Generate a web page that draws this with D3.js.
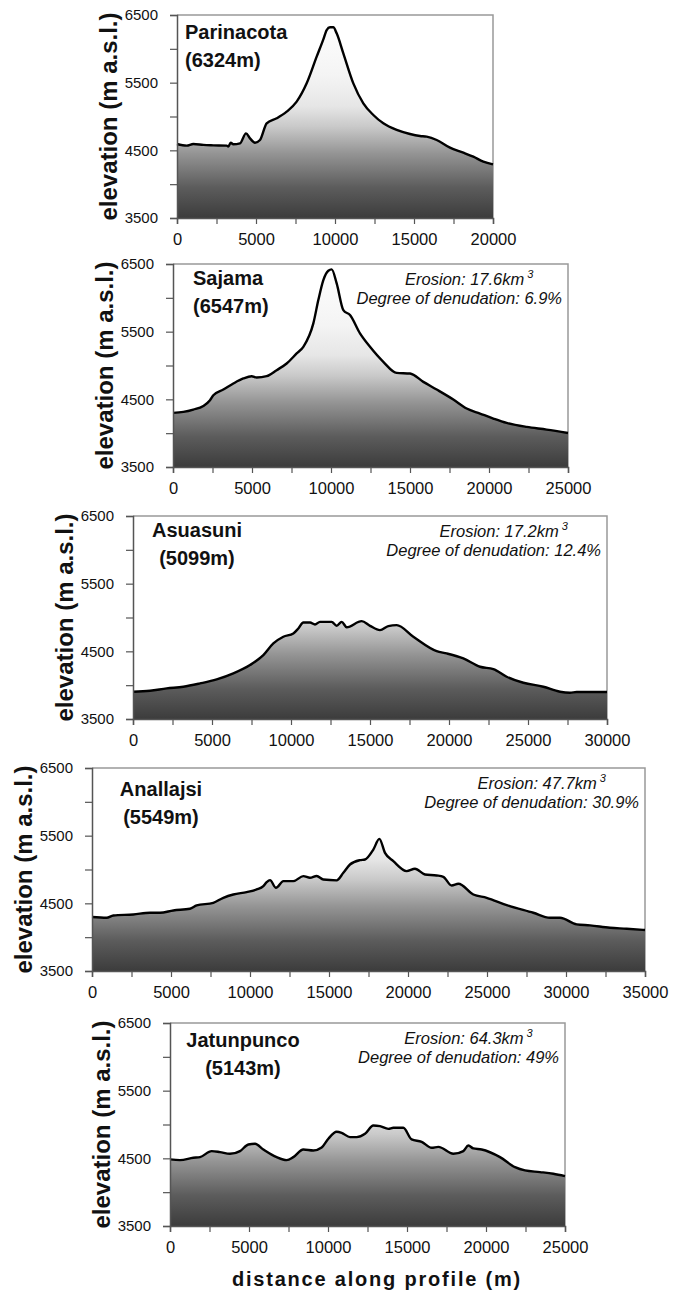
<!DOCTYPE html>
<html>
<head>
<meta charset="utf-8">
<script src="https://cdn.jsdelivr.net/npm/d3@7"></script>
<style>
  body { margin: 0; background: #fff; }
  text { font-family: "Liberation Sans", Arial, sans-serif; fill: #111; }
  .tick-y { font-size: 15px; }
  .tick-x { font-size: 16.5px; }
  .ylabel { font-size: 24px; font-weight: bold; }
  .xlabel { font-size: 20px; font-weight: bold; letter-spacing: 1.8px; }
  .name { font-size: 20px; font-weight: bold; }
  .note { font-size: 16.5px; font-style: italic; }
</style>
</head>
<body>
<div id="viz"></div>
<script>
var width = 681
var height = 1294

// profiles: [distance (m), elevation (m a.s.l.)]
var parinacota = [[0,4594],[612,4569],[1034,4594],[1667,4580],[2300,4574],[3143,4569],[3249,4555],[3397,4613],
  [3565,4589],[3987,4603],[4367,4751],[4620,4677],[4937,4613],[5253,4653],[5675,4899],[6308,4973],[6941,5071],
  [7574,5219],[8207,5490],[8840,5884],[9262,6140],[9473,6278],[9684,6318],[9895,6318],[10105,6229],[10527,5934],
  [11160,5490],[11793,5195],[12426,5022],[13059,4899],[13903,4801],[14747,4741],[15380,4712],[15802,4702],
  [16435,4653],[17278,4539],[18122,4466],[18755,4406],[19388,4333],[20000,4293]]
var sajama = [[0,4300],[654,4314],[1287,4349],[1920,4403],[2342,4487],[2553,4561],[3186,4645],[3819,4734],
  [4451,4808],[4979,4842],[5295,4822],[5928,4842],[6561,4931],[7194,5030],[7827,5178],[8249,5276],[8882,5622],
  [9198,5967],[9515,6263],[9831,6401],[10042,6421],[10359,6214],[10781,5819],[11203,5745],[11835,5474],
  [12468,5276],[13312,5054],[14156,4891],[15000,4882],[15844,4758],[16688,4645],[17743,4497],[18586,4364],
  [19430,4290],[20274,4216],[21118,4151],[22384,4092],[23650,4053],[25000,4003]]
var asuasuni = [[0,3903],[1076,3918],[2131,3952],[3186,3977],[4241,4026],[5295,4085],[6350,4174],[7405,4297],
  [8249,4444],[8882,4616],[9515,4715],[10148,4764],[10464,4838],[10781,4926],[11203,4926],[11519,4897],
  [11835,4936],[12574,4936],[12890,4877],[13207,4936],[13523,4857],[14473,4946],[15000,4877],[15633,4813],
  [16160,4872],[16688,4887],[17743,4715],[19219,4503],[19852,4469],[20907,4395],[21962,4272],[22806,4238],
  [23650,4125],[24705,4036],[25970,3977],[27025,3903],[27658,3889],[28080,3898],[30000,3898]]
var anallajsi = [[0,4297],[928,4287],[1350,4321],[2616,4336],[3671,4361],[4304,4361],[5148,4395],[6203,4420],
  [6624,4469],[7679,4508],[8312,4582],[8945,4631],[9789,4666],[10422,4705],[10844,4754],[11055,4813],
  [11266,4843],[11646,4730],[12110,4828],[12743,4828],[13376,4902],[13797,4877],[14219,4905],[14641,4852],
  [15485,4840],[15907,4951],[16329,5074],[16962,5138],[17278,5148],[17806,5295],[18186,5452],[18544,5246],
  [19072,5123],[19916,4976],[20443,5010],[21076,4926],[21814,4912],[22236,4892],[22764,4764],[23186,4789],
  [24135,4631],[24979,4582],[26245,4474],[27932,4361],[28987,4287],[29620,4287],[30675,4189],[31519,4174],
  [32785,4139],[33840,4125],[35000,4105]]
var jatunpunco = [[0,4484],[633,4474],[1477,4508],[1899,4518],[2637,4607],[3165,4592],[3797,4567],[4430,4607],
  [4958,4705],[5380,4715],[5907,4631],[6751,4518],[7384,4474],[7806,4518],[8439,4631],[9072,4616],[9599,4660],
  [10021,4790],[10549,4892],[10865,4877],[11392,4813],[11814,4813],[12342,4862],[12869,4985],[13291,4975],
  [13819,4936],[14135,4951],[14768,4951],[15295,4779],[15928,4744],[16561,4656],[16983,4670],[17932,4567],
  [18565,4607],[18882,4690],[19198,4646],[19726,4631],[20886,4518],[21835,4370],[22468,4321],[23418,4297],
  [24262,4272],[25000,4238]]

var profiles = [parinacota, sajama, asuasuni, anallajsi, jatunpunco]
var names = ["Parinacota", "Sajama", "Asuasuni", "Anallajsi", "Jatunpunco"]
var summits = ["(6324m)", "(6547m)", "(5099m)", "(5549m)", "(5143m)"]
var erosion = [null, "17.6", "17.2", "47.7", "64.3"]
var denudation = [null, "6.9%", "12.4%", "30.9%", "49%"]
var profileLength = [20000, 25000, 30000, 35000, 25000]
var yTicks = [3500, 4500, 5500, 6500]

// layout of each panel
var panels = [
  {left: 177, top: 15, nameX: 185, anchor: "start", nameDy: 24},
  {left: 173, top: 264, nameX: 193, anchor: "start", nameDy: 21},
  {left: 133, top: 516, nameX: 197, anchor: "middle", nameDy: 21},
  {left: 92, top: 768, nameX: 161, anchor: "middle", nameDy: 28},
  {left: 170, top: 1023, nameX: 243, anchor: "middle", nameDy: 24}
]
var plotH = 203
var pxPer5000 = 79

var svg = d3.select("#viz").append("svg")
    .attr("width", width)
    .attr("height", height);
var defs = svg.append("defs");

var stops = [[0, "#ffffff"], [0.3, "#f4f4f4"], [0.45, "#e6e6e6"], [0.55, "#c9c9c9"],
  [0.68, "#959595"], [0.85, "#5c5c5c"], [1, "#3c3c3c"]]

profiles.forEach(function (data, i) {
    var p = panels[i];
    var w = profileLength[i] / 5000 * pxPer5000;
    var x = d3.scaleLinear().domain([0, profileLength[i]]).range([p.left, p.left + w]);
    var y = d3.scaleLinear().domain([3500, 6500]).range([p.top + plotH, p.top]);

    var grad = defs.append("linearGradient")
        .attr("id", "grad" + i)
        .attr("gradientUnits", "userSpaceOnUse")
        .attr("x1", 0).attr("x2", 0)
        .attr("y1", p.top).attr("y2", p.top + plotH);
    stops.forEach(function (s) {
        grad.append("stop").attr("offset", s[0]).attr("stop-color", s[1]);
    });

    var g = svg.append("g");

    // frame (top and right)
    g.append("path")
        .attr("d", "M" + p.left + "," + p.top + "H" + (p.left + w) + "V" + (p.top + plotH))
        .attr("fill", "none")
        .attr("stroke", "#999")
        .attr("stroke-width", 1.5);

    var area = d3.area()
        .x(function (d) { return x(d[0]); })
        .y0(y(3500))
        .y1(function (d) { return y(d[1]); })
        .curve(d3.curveMonotoneX);
    var line = d3.line()
        .x(function (d) { return x(d[0]); })
        .y(function (d) { return y(d[1]); })
        .curve(d3.curveMonotoneX);

    g.append("path").datum(data)
        .attr("d", area)
        .attr("fill", "url(#grad" + i + ")");
    g.append("path").datum(data)
        .attr("d", line)
        .attr("fill", "none")
        .attr("stroke", "#000")
        .attr("stroke-width", 2.4)
        .attr("stroke-linejoin", "round");

    // axes
    var yAxis = d3.axisLeft(y)
        .tickValues(d3.range(3500, 6501, 500))
        .tickSize(7)
        .tickPadding(12)
        .tickFormat(function (d) { return yTicks.indexOf(d) >= 0 ? d : ""; });
    var ya = g.append("g")
        .attr("transform", "translate(" + p.left + ",0)")
        .call(yAxis);
    ya.selectAll("text").attr("class", "tick-y").attr("font-family", null).attr("font-size", null);

    var xAxis = d3.axisBottom(x)
        .tickValues(d3.range(0, profileLength[i] + 1, 2500))
        .tickSize(6)
        .tickPadding(9)
        .tickFormat(function (d) { return d % 5000 == 0 ? d : ""; });
    var xa = g.append("g")
        .attr("transform", "translate(0," + (p.top + plotH) + ")")
        .call(xAxis);
    xa.selectAll("text").attr("class", "tick-x").attr("font-family", null).attr("font-size", null);

    [ya, xa].forEach(function (a) {
        a.select(".domain").attr("stroke", "#555").attr("stroke-width", 1.5);
        a.selectAll(".tick line").attr("stroke", "#555").attr("stroke-width", 1.2);
        a.selectAll(".tick text").attr("fill", "#111");
    });

    // y label
    g.append("text")
        .attr("class", "ylabel")
        .attr("text-anchor", "middle")
        .attr("transform", "translate(" + (p.left - 60) + "," + (p.top + plotH / 2) + ") rotate(-90)")
        .text("elevation (m a.s.l.)");

    // volcano name and summit
    g.append("text")
        .attr("class", "name")
        .attr("text-anchor", p.anchor)
        .attr("x", p.nameX)
        .attr("y", p.top + p.nameDy)
        .text(names[i]);
    g.append("text")
        .attr("class", "name")
        .attr("text-anchor", p.anchor)
        .attr("x", p.nameX)
        .attr("y", p.top + p.nameDy + 28)
        .text(summits[i]);

    // erosion note
    if (erosion[i]) {
        var deg = g.append("text")
            .attr("class", "note")
            .attr("text-anchor", "end")
            .attr("x", p.left + w - 6)
            .attr("y", p.top + 40)
            .text("Degree of denudation: " + denudation[i]);
        var cx = p.left + w - 6 - deg.node().getComputedTextLength() / 2 + 10;
        var ero = g.append("text")
            .attr("class", "note")
            .attr("text-anchor", "middle")
            .attr("x", cx)
            .attr("y", p.top + 21);
        ero.append("tspan").text("Erosion: " + erosion[i] + "km");
        ero.append("tspan")
            .attr("dy", -7)
            .attr("dx", 3)
            .attr("font-size", "11px")
            .text("3");
    }
});

svg.append("text")
    .attr("class", "xlabel")
    .attr("text-anchor", "middle")
    .attr("x", 377)
    .attr("y", 1286)
    .text("distance along profile (m)");
</script>
</body>
</html>
